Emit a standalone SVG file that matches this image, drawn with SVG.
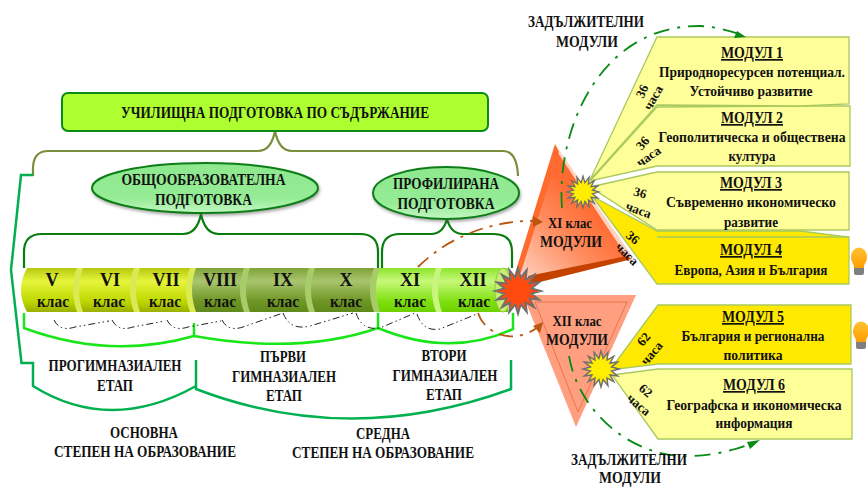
<svg xmlns="http://www.w3.org/2000/svg" width="868" height="487" viewBox="0 0 868 487">
<style>
text{font-family:"Liberation Serif","Times New Roman",serif;font-weight:bold;fill:#111;text-anchor:middle;font-size:16px}
.m{font-size:17px;text-decoration:underline}
.t{font-size:15.5px}
.s{font-size:14px}
.h{font-size:13px}
.c{font-size:18px}
.cl{font-size:17px}
.lt{fill:#ffff99;stroke:#a9c95e;stroke-width:1.3}
.dk{fill:#ffe900;stroke:#a9c95e;stroke-width:1.3}
.star{stroke:#6e6e6e;stroke-width:8}
.arc{fill:none;stroke:#222;stroke-width:1;stroke-dasharray:7 3 1.5 3 1.5 3}
.gr{fill:none;stroke:#0a8a16;stroke-width:1.8;stroke-dasharray:16 8 3 8}
.or{fill:none;stroke:#b9560f;stroke-width:1.8;stroke-dasharray:14 7 3 7}
</style>
<defs>
<linearGradient id="cy" x1="0" y1="0" x2="0" y2="1"><stop offset="0" stop-color="#b5c910"/><stop offset=".3" stop-color="#e6f53c"/><stop offset=".75" stop-color="#bfd800"/><stop offset="1" stop-color="#9bb000"/></linearGradient>
<linearGradient id="co" x1="0" y1="0" x2="0" y2="1"><stop offset="0" stop-color="#7fa337"/><stop offset=".3" stop-color="#a9c56e"/><stop offset=".75" stop-color="#6f9624"/><stop offset="1" stop-color="#5f8a1c"/></linearGradient>
<linearGradient id="cg" x1="0" y1="0" x2="0" y2="1"><stop offset="0" stop-color="#8de52c"/><stop offset=".3" stop-color="#c7f87a"/><stop offset=".75" stop-color="#7fe010"/><stop offset="1" stop-color="#6fd000"/></linearGradient>
<linearGradient id="el" x1="0" y1="0" x2="0" y2="1"><stop offset="0" stop-color="#8ee88e"/><stop offset=".7" stop-color="#94ec94"/><stop offset="1" stop-color="#c4f6c4"/></linearGradient>
<linearGradient id="tr" gradientUnits="userSpaceOnUse" x1="520" y1="275" x2="590" y2="205"><stop offset="0" stop-color="#ffd0bd"/><stop offset=".6" stop-color="#ff8a5c"/><stop offset="1" stop-color="#ff6a30"/></linearGradient>
<linearGradient id="bulb" x1="0" y1="0" x2="0" y2="1"><stop offset="0" stop-color="#ffc233"/><stop offset="1" stop-color="#ff9d00"/></linearGradient>
<filter id="sh" x="-10%" y="-20%" width="120%" height="150%"><feDropShadow dx="1" dy="2" stdDeviation="1.5" flood-color="#555" flood-opacity=".5"/></filter>
<polygon id="star" points="100,0 58.8,11.7 92.4,38.3 49.9,33.3 70.7,70.7 33.3,49.9 38.3,92.4 11.7,58.8 0,100 -11.7,58.8 -38.3,92.4 -33.3,49.9 -70.7,70.7 -49.9,33.3 -92.4,38.3 -58.8,11.7 -100,0 -58.8,-11.7 -92.4,-38.3 -49.9,-33.3 -70.7,-70.7 -33.3,-49.9 -38.3,-92.4 -11.7,-58.8 0,-100 11.7,-58.8 38.3,-92.4 33.3,-49.9 70.7,-70.7 49.9,-33.3 92.4,-38.3 58.8,-11.7"/>
<g id="lamp"><rect x="-5" y="8" width="10" height="9" rx="2" fill="#7f7f7f"/><path d="M-8,-1 A8,9.500 0 1 1 8,-1 C8,4 5,6 4.500,10 L-4.500,10 C-5,6 -8,4 -8,-1 Z" fill="url(#bulb)"/></g>
<path id="dv" d="M3,0 Q-5,22 3,44 L9,44 Q1,22 9,0 Z"/>
</defs>

<g id="connectors">
<path d="M33,176 L33,167 Q34,151 48,151 L258,151 Q271,151 275,131 Q279,151 292,151 L503,151 Q517,151 518,176" fill="none" stroke="#7a8f3c" stroke-width="2.2"/>
<path d="M33,175 L21,175 L11,270 L21.500,363 L33,363 L33,386 Q110,434 196,386 M196,360 L196,389 Q350,448 511,389 L511,360" fill="none" stroke="#00b050" stroke-width="2.5"/>
<path d="M24,268 L24,252 Q24,234 42,234 L183,234 Q197,234 201,214 Q205,234 219,234 L360,234 Q378,234 378,252 L378,268" fill="none" stroke="#0a7d10" stroke-width="2.2"/>
<path d="M382,268 L382,252 Q382,234 400,234 L431,234 Q443,234 447,219 Q451,234 463,234 L494,234 Q512,234 512,252 L512,268" fill="none" stroke="#0a7d10" stroke-width="2.2"/>
<path d="M24,313 L24,328 Q110,360 194,336 M194,323 L194,336 Q300,355 378,328 M378,313 L378,328 Q450,358 513,329 L513,313" fill="none" stroke="#19e619" stroke-width="2.5"/>
</g>

<g id="title"><rect x="62" y="93" width="426" height="38" rx="6" fill="#adff2f" stroke="#0b8a1a" stroke-width="2"/>
<text x="275" y="118" textLength="308" lengthAdjust="spacingAndGlyphs">УЧИЛИЩНА ПОДГОТОВКА ПО СЪДЪРЖАНИЕ</text></g>
<g id="general"><ellipse cx="205" cy="188" rx="113" ry="25" fill="url(#el)" stroke="#0b7d18" stroke-width="2" filter="url(#sh)"/>
<text x="203.500" y="185" textLength="164" lengthAdjust="spacingAndGlyphs">ОБЩООБРАЗОВАТЕЛНА</text><text x="203.500" y="205" textLength="97" lengthAdjust="spacingAndGlyphs">ПОДГОТОВКА</text></g>
<g id="profile"><ellipse cx="446" cy="193" rx="73" ry="26" fill="url(#el)" stroke="#0b7d18" stroke-width="2" filter="url(#sh)"/>
<text x="446" y="189" textLength="106" lengthAdjust="spacingAndGlyphs">ПРОФИЛИРАНА</text><text x="446" y="209" textLength="97" lengthAdjust="spacingAndGlyphs">ПОДГОТОВКА</text></g>

<g id="cylinder">
<path d="M27,268 L194,268 L194,312 L27,312 Q15,290 27,268 Z" fill="url(#cy)"/>
<rect x="190" y="268" width="130" height="44" fill="url(#co)"/>
<rect x="312" y="268" width="66" height="44" fill="url(#co)"/>
<path d="M376,268 L508,268 L508,312 L376,312 Z" fill="url(#cg)"/>
<ellipse cx="503" cy="290" rx="8" ry="22" fill="#c6ee70" stroke="#9ac845"/>
<use href="#dv" transform="translate(74 268)" fill="#d9ea55"/>
<use href="#dv" transform="translate(131 268)" fill="#d9ea55"/>
<use href="#dv" transform="translate(187 268)" fill="#d9ea55"/>
<use href="#dv" transform="translate(241 268)" fill="#a9cc6a"/>
<use href="#dv" transform="translate(306 268)" fill="#a9cc6a"/>
<use href="#dv" transform="translate(371 268)" fill="#a9cc6a"/>
<use href="#dv" transform="translate(433 268)" fill="#c8f580"/>
</g>
<g id="class-5"><text class="c" x="52" y="286">V</text><text class="cl" x="53" y="307" textLength="32" lengthAdjust="spacingAndGlyphs">клас</text></g>
<g id="class-6"><text class="c" x="110" y="286">VI</text><text class="cl" x="109" y="307" textLength="32" lengthAdjust="spacingAndGlyphs">клас</text></g>
<g id="class-7"><text class="c" x="166" y="286">VII</text><text class="cl" x="165" y="307" textLength="32" lengthAdjust="spacingAndGlyphs">клас</text></g>
<g id="class-8"><text class="c" x="220" y="286">VIII</text><text class="cl" x="220" y="307" textLength="32" lengthAdjust="spacingAndGlyphs">клас</text></g>
<g id="class-9"><text class="c" x="283" y="286">IX</text><text class="cl" x="283" y="307" textLength="32" lengthAdjust="spacingAndGlyphs">клас</text></g>
<g id="class-10"><text class="c" x="346" y="286">X</text><text class="cl" x="346" y="307" textLength="32" lengthAdjust="spacingAndGlyphs">клас</text></g>
<g id="class-11"><text class="c" x="410" y="286">XI</text><text class="cl" x="410" y="307" textLength="32" lengthAdjust="spacingAndGlyphs">клас</text></g>
<g id="class-12"><text class="c" x="473" y="286">XII</text><text class="cl" x="474" y="307" textLength="32" lengthAdjust="spacingAndGlyphs">клас</text></g>

<g id="class-arcs">
<path class="arc" d="M54,320 Q60,332 75,327 L109,321"/>
<path class="arc" d="M112,320 Q118,332 133,327 L165,321"/>
<path class="arc" d="M167,320 Q173,332 188,327 L221,321"/>
<path class="arc" d="M222,320 Q228,332 243,327 L283,313"/>
<path class="arc" d="M283,313 Q290,331 310,326 L353,313"/>
<path class="arc" d="M356,313 Q362,331 380,328 L415,313"/>
<path class="arc" d="M417,314 Q423,332 440,329 L477,314"/>
</g>

<g id="stage-labels">
<text x="115" y="371" textLength="133" lengthAdjust="spacingAndGlyphs">ПРОГИМНАЗИАЛЕН</text><text x="115" y="391" textLength="36" lengthAdjust="spacingAndGlyphs">ЕТАП</text>
<text x="283" y="362" textLength="46" lengthAdjust="spacingAndGlyphs">ПЪРВИ</text><text x="284" y="382" textLength="104" lengthAdjust="spacingAndGlyphs">ГИМНАЗИАЛЕН</text><text x="284" y="401" textLength="36" lengthAdjust="spacingAndGlyphs">ЕТАП</text>
<text x="444" y="361" textLength="45" lengthAdjust="spacingAndGlyphs">ВТОРИ</text><text x="445" y="381" textLength="105" lengthAdjust="spacingAndGlyphs">ГИМНАЗИАЛЕН</text><text x="444" y="400" textLength="36" lengthAdjust="spacingAndGlyphs">ЕТАП</text>
<text x="144" y="438" textLength="68" lengthAdjust="spacingAndGlyphs">ОСНОВНА</text><text x="145" y="457" textLength="182" lengthAdjust="spacingAndGlyphs">СТЕПЕН НА ОБРАЗОВАНИЕ</text>
<text x="383" y="439" textLength="54" lengthAdjust="spacingAndGlyphs">СРЕДНА</text><text x="383" y="458" textLength="182" lengthAdjust="spacingAndGlyphs">СТЕПЕН НА ОБРАЗОВАНИЕ</text>
</g>

<g id="modules-xi">
<polygon fill="#ffd2c2" points="555,144 632,256 626,258 556,152"/>
<polygon fill="url(#tr)" points="556,150 627,257 530,277 513,280"/>
<polygon fill="#ff6a2e" points="555,144 559,152 521,272 513,280"/>
<polygon fill="#c44100" points="528,276 627,256 632,259 532,284"/>
<text class="t" x="570" y="228" textLength="44" lengthAdjust="spacingAndGlyphs">XI клас</text><text class="cl" x="571" y="247" textLength="62" lengthAdjust="spacingAndGlyphs">МОДУЛИ</text>
</g>
<g id="modules-xii">
<polygon fill="#ff9f80" points="523,295 636,295 576,427"/>
<polygon fill="none" stroke="#e06a40" stroke-width=".8" points="535,302 627,302 578,412"/>
<text class="t" x="577" y="326" textLength="49" lengthAdjust="spacingAndGlyphs">XII клас</text><text class="cl" x="577" y="345" textLength="62" lengthAdjust="spacingAndGlyphs">МОДУЛИ</text>
</g>

<g id="module-4"><polygon class="dk" points="592,196 657,231 800,231 849,237 849,284 657,284"/><line x1="657" y1="237" x2="849" y2="237" stroke="#a9c95e" stroke-width="1.3"/>
<text class="m" x="751" y="255" textLength="62" lengthAdjust="spacingAndGlyphs">МОДУЛ 4</text><text class="t" x="751" y="275" textLength="153" lengthAdjust="spacingAndGlyphs">Европа, Азия и България</text>
<text class="h" transform="translate(630 241) rotate(40)">36</text><text class="h" transform="translate(624 257) rotate(45)">часа</text></g>
<g id="module-3"><polygon class="lt" points="590,187 657,172 849,172 849,230 657,230"/>
<text class="m" x="751" y="188" textLength="62" lengthAdjust="spacingAndGlyphs">МОДУЛ 3</text><text class="t" x="751" y="207" textLength="170" lengthAdjust="spacingAndGlyphs">Съвременно икономическо</text><text class="t" x="751" y="227" textLength="54" lengthAdjust="spacingAndGlyphs">развитие</text>
<text class="h" transform="translate(639 197) rotate(15)">36</text><text class="h" transform="translate(637 214) rotate(20)">часа</text></g>
<g id="module-2"><polygon class="lt" points="590,181 657,107 800,106 850,106 850,166 657,166"/>
<text class="m" x="752" y="123" textLength="62" lengthAdjust="spacingAndGlyphs">МОДУЛ 2</text><text class="s" x="752" y="142" textLength="187" lengthAdjust="spacingAndGlyphs">Геополитическа и обществена</text><text class="t" x="752" y="161" textLength="47" lengthAdjust="spacingAndGlyphs">култура</text>
<text class="h" transform="translate(646 146) rotate(-50)">36</text><text class="h" transform="translate(651 160) rotate(-35)">часа</text></g>
<g id="module-1"><polygon class="lt" points="590,180 657,37 849,37 849,104 800,106 657,105"/>
<text class="m" x="752" y="58" textLength="62" lengthAdjust="spacingAndGlyphs">МОДУЛ 1</text><text class="s" x="752" y="77" textLength="186" lengthAdjust="spacingAndGlyphs">Природноресурсен потенциал.</text><text class="t" x="751" y="96" textLength="123" lengthAdjust="spacingAndGlyphs">Устойчиво развитие</text>
<text class="h" transform="translate(646 93) rotate(-65)">36</text><text class="h" transform="translate(657 100) rotate(-60)">часа</text></g>
<g id="module-6"><polygon class="lt" points="612,375 658,369 852,369 852,439 658,439"/>
<text class="m" x="754" y="390" textLength="62" lengthAdjust="spacingAndGlyphs">МОДУЛ 6</text><text class="t" x="754" y="410" textLength="175" lengthAdjust="spacingAndGlyphs">Географска и икономическа</text><text class="t" x="754" y="428" textLength="77" lengthAdjust="spacingAndGlyphs">информация</text>
<text class="h" transform="translate(643 394) rotate(40)">62</text><text class="h" transform="translate(636 408) rotate(40)">часа</text></g>
<g id="module-5"><polygon class="dk" points="610,370 658,305 851,305 851,364 658,364"/>
<text class="m" x="753" y="322" textLength="62" lengthAdjust="spacingAndGlyphs">МОДУЛ 5</text><text class="t" x="753" y="341" textLength="143" lengthAdjust="spacingAndGlyphs">България и регионална</text><text class="t" x="753" y="360" textLength="59" lengthAdjust="spacingAndGlyphs">политика</text>
<text class="h" transform="translate(647 342) rotate(-50)">62</text><text class="h" transform="translate(655 356) rotate(-50)">часа</text></g>

<g id="lamps"><use href="#lamp" transform="translate(859 258)"/><use href="#lamp" transform="translate(861 332)"/></g>

<g id="flow-arrows">
<path class="gr" d="M562,208 C556,130 600,25 700,26 Q720,27 742,35"/><polygon fill="#0a8a16" points="746,37 734,38 737,31"/>
<path class="gr" d="M569,356 C578,410 630,458 690,456 Q725,455 755,442"/><polygon fill="#0a8a16" points="760,440 750,449 747,442"/>
<path class="or" d="M418,267 C450,235 495,220 536,221"/><polygon fill="#b9560f" points="543,222 533,227 533,216"/>
<path class="or" d="M478,313 C485,335 515,345 538,327"/><polygon fill="#b9560f" points="543,322 540,333 533,326"/>
</g>

<g id="sparks">
<use href="#star" class="star" fill="#ff4a10" transform="translate(518 291) scale(.23)"/>
<use href="#star" class="star" fill="#ffee00" transform="translate(583 192) scale(.16)"/>
<use href="#star" class="star" fill="#ffee00" transform="translate(601 369) scale(.18)"/>
</g>

<g id="required-top"><text x="586" y="27" textLength="116" lengthAdjust="spacingAndGlyphs">ЗАДЪЛЖИТЕЛНИ</text><text x="587" y="47" textLength="62" lengthAdjust="spacingAndGlyphs">МОДУЛИ</text></g>
<g id="required-bottom"><text x="629" y="465" textLength="116" lengthAdjust="spacingAndGlyphs">ЗАДЪЛЖИТЕЛНИ</text><text x="630" y="483" textLength="62" lengthAdjust="spacingAndGlyphs">МОДУЛИ</text></g>
</svg>
